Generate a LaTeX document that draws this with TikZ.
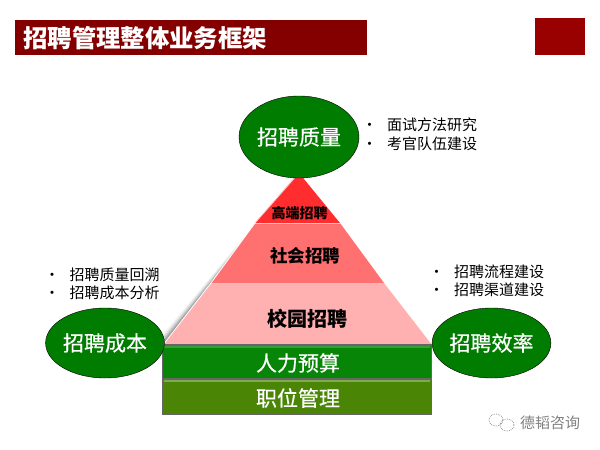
\documentclass[tikz,border=0pt]{standalone}
\usepackage{fontspec}
\setmainfont{Noto Sans CJK SC}
\newfontfamily\heavyfont[FakeBold=0.5]{Noto Sans CJK SC}
\usetikzlibrary{shapes.geometric}
\definecolor{titlered}{HTML}{840000}
\definecolor{squarered}{HTML}{990000}
\definecolor{ovalgreen}{HTML}{007C00}
\definecolor{budgetgreen}{HTML}{068506}
\definecolor{postgreen}{HTML}{4A8505}
\definecolor{tiertop}{HTML}{FF2D2D}
\definecolor{tiermid}{HTML}{FF7070}
\definecolor{tierlow}{HTML}{FFB0B0}
\tikzset{
	oval/.style={ellipse, draw=black, fill=ovalgreen, text=white, inner sep=0pt, font=\heavyfont\fontsize{21}{21}\selectfont},
	barlabel/.style={text=white, font=\heavyfont\fontsize{21}{21}\selectfont},
	bullet/.style={anchor=west, inner sep=0pt, font=\fontsize{15}{15}\selectfont},
	tierlabel/.style={text=black, font=\bfseries\fontsize{#1}{#1}\selectfont}
}
\begin{document}
\begin{tikzpicture}[x=1pt, y=-1pt]
	%%%%% START %%%%%
	\useasboundingbox (0, 0) rectangle (600, 450);

	\fill[titlered] (15, 20) rectangle (367, 55);
	\node[text=white, anchor=west, inner sep=0pt, font=\bfseries\fontsize{24.4}{24.4}\selectfont] (title) at (23, 38) {招聘管理整体业务框架};
	\fill[squarered] (535, 18) rectangle (585, 55);

	% shadow left of the pyramid
	\foreach \d/\o in {9/0.05, 7/0.08, 5/0.12, 3/0.16, 1/0.2}
		\fill[black, opacity=\o] (299, 173) -- (299-\d, 173+\d) -- (163-\d, 345) -- (163, 345) -- cycle;

	\fill[tierlow] (163, 345) -- (211, 283) -- (384, 283) -- (432, 345) -- cycle;
	\fill[tiermid] (211, 283) -- (255, 223) -- (340, 223) -- (384, 283) -- cycle;
	\fill[tiertop] (255, 223) -- (299, 173) -- (340, 223) -- cycle;
	\draw[white!60!tiermid, line width=0.8] (255, 223) -- (299, 173);
	\draw[white!60!tiermid, line width=0.8] (255, 223) -- (340, 223);
	\draw[white, line width=0.8] (163, 345) -- (211, 283) -- (255, 223);
	\draw[white!50!tiermid, line width=0.8] (211, 283) -- (384, 283);

	\node[tierlabel=14] (high) at (299.5, 213) {高端招聘};
	\node[tierlabel=17.5] (social) at (305, 256) {社会招聘};
	\node[tierlabel=20] (campus) at (307, 319) {校园招聘};

	\draw[fill=postgreen, draw=black!60, line width=1.5] (162.5, 379) rectangle (431.5, 414.5);
	\draw[postgreen!70!white, line width=1.5] (164, 381) -- (430, 381);
	\draw[fill=budgetgreen, draw=black!60, line width=1.5] (162.5, 345) rectangle (431.5, 379);
	\draw[budgetgreen!80!white, line width=1.2] (164, 347) -- (430, 347);
	\node[barlabel] (budget) at (298, 363) {人力预算};
	\node[barlabel] (post) at (298, 398) {职位管理};

	\node[oval, minimum width=120, minimum height=82] (quality) at (299, 137) {招聘质量};
	\node[oval, minimum width=117, minimum height=70] (cost) at (105, 343) {招聘成本};
	\node[oval, minimum width=118, minimum height=70] (speed) at (491.5, 343) {招聘效率};

	\node[bullet] (qualityA) at (362, 125) {•\hspace{10pt}面试方法研究};
	\node[bullet] (qualityB) at (362, 144) {•\hspace{10pt}考官队伍建设};
	\node[bullet] (costA) at (44.5, 275) {•\hspace{10pt}招聘质量回溯};
	\node[bullet] (costB) at (44.5, 293) {•\hspace{10pt}招聘成本分析};
	\node[bullet] (speedA) at (429, 272) {•\hspace{10pt}招聘流程建设};
	\node[bullet] (speedB) at (429, 290) {•\hspace{10pt}招聘渠道建设};

	% watermark
	\draw[black!40, densely dotted, line width=0.8] (496, 420) ellipse (7 and 6);
	\draw[black!40, densely dotted, line width=0.8] (507, 425) ellipse (7 and 6);
	\node[text=black!50, font=\fontsize{15}{15}\selectfont] (mark) at (550, 423) {德韬咨询};
	%%%%% END %%%%%
\end{tikzpicture}
\end{document}
